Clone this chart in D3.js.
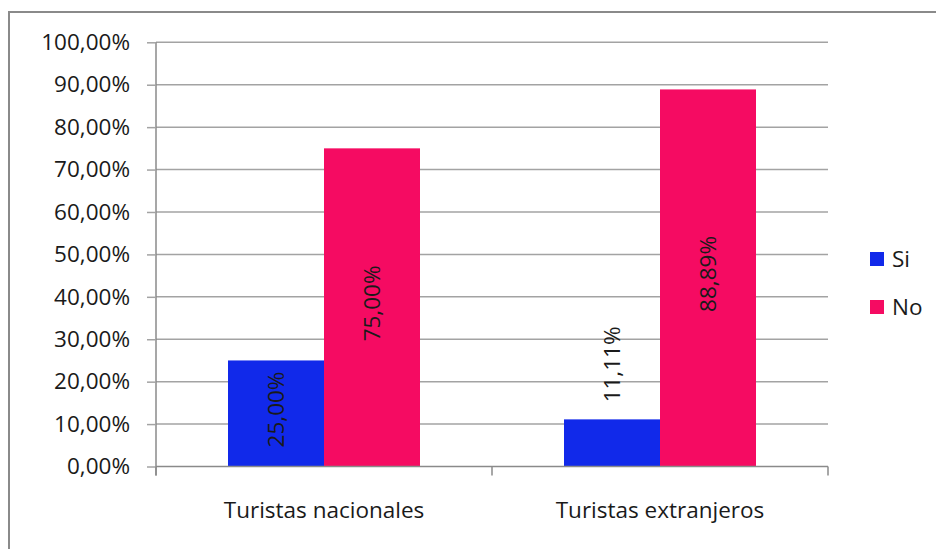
<!DOCTYPE html>
<html>
  <head>
    <meta charset="utf-8">
    <script src="https://d3js.org/d3.v7.min.js"></script>
    <style>
      body { margin: 0; background: #fff; }
      text { font-family: "Open Sans", sans-serif; fill: #1a1a1a; }
    </style>
  </head>
  <body>
    <div id="chart"></div>
    <script>
      // Data
      var categories = ["Turistas nacionales", "Turistas extranjeros"];
      var series = ["Si", "No"];
      var siValues = [0.25, 0.1111];
      var noValues = [0.75, 0.8889];
      var yTicks = [0, 0.1, 0.2, 0.3, 0.4, 0.5, 0.6, 0.7, 0.8, 0.9, 1];
      var colors = ["#1129ea", "#f50b62"];

      var width = 936, height = 549;
      var plotLeft = 156, plotRight = 828, plotTop = 42.3, plotBottom = 466.5;

      var svg = d3.select("#chart").append("svg")
        .attr("width", width)
        .attr("height", height);

      // outer frame
      svg.append("rect")
        .attr("x", 9).attr("y", 12)
        .attr("width", 940).attr("height", 560)
        .attr("fill", "none")
        .attr("stroke", "#8a8a8a")
        .attr("stroke-width", 2);

      var x0 = d3.scaleBand().domain(categories).range([plotLeft, plotRight]);
      var x1 = d3.scaleBand().domain(series).range([0, x0.bandwidth()]).paddingOuter(0.75);
      var y = d3.scaleLinear().domain([0, 1]).range([plotBottom, plotTop]);

      var fmt = function (d) { return (d * 100).toFixed(2).replace(".", ",") + "%"; };

      // gridlines
      svg.append("g").selectAll("line")
        .data(yTicks.filter(function (d) { return d > 0; }))
        .enter().append("line")
        .attr("x1", plotLeft).attr("x2", plotRight)
        .attr("y1", function (d) { return y(d); })
        .attr("y2", function (d) { return y(d); })
        .attr("stroke", "#a3a3a3")
        .attr("stroke-width", 1.5);

      // y axis
      var yAxis = svg.append("g")
        .attr("transform", "translate(" + plotLeft + ",0)")
        .call(d3.axisLeft(y).tickValues(yTicks).tickFormat(fmt).tickSizeInner(9).tickSizeOuter(0).tickPadding(17));
      yAxis.select(".domain").attr("stroke", "#8a8a8a").attr("stroke-width", 1.5)
        .attr("d", "M0," + plotTop + "V" + (plotBottom + 9));
      yAxis.selectAll(".tick line").attr("stroke", "#a3a3a3").attr("stroke-width", 1.5);
      yAxis.selectAll("text").style("font-size", "22.5px").attr("fill", "#1a1a1a");

      // bars
      var rows = categories.map(function (c, i) {
        return [{ cat: c, s: series[0], v: siValues[i] }, { cat: c, s: series[1], v: noValues[i] }];
      });
      var groups = svg.append("g").selectAll("g")
        .data(rows).enter().append("g")
        .attr("transform", function (d) { return "translate(" + x0(d[0].cat) + ",0)"; });

      groups.selectAll("rect")
        .data(function (d) { return d; })
        .enter().append("rect")
        .attr("x", function (d) { return x1(d.s); })
        .attr("y", function (d) { return y(d.v); })
        .attr("width", x1.bandwidth())
        .attr("height", function (d) { return y(0) - y(d.v); })
        .attr("fill", function (d, i) { return colors[i]; });

      // data labels (rotated)
      groups.selectAll("text")
        .data(function (d) { return d; })
        .enter().append("text")
        .style("font-size", "22.5px")
        .attr("dy", "0.36em")
        .attr("transform", function (d) {
          var cx = x1(d.s) + x1.bandwidth() / 2;
          var h = y(0) - y(d.v);
          var cy = h > 100 ? (y(d.v) + y(0)) / 2 - 4 : y(d.v) - 17;
          return "translate(" + cx + "," + cy + ") rotate(-90)";
        })
        .attr("text-anchor", function (d) { return (y(0) - y(d.v)) > 100 ? "middle" : "start"; })
        .text(function (d) { return fmt(d.v); });

      // x axis
      svg.append("line")
        .attr("x1", plotLeft).attr("x2", plotRight)
        .attr("y1", plotBottom).attr("y2", plotBottom)
        .attr("stroke", "#8a8a8a").attr("stroke-width", 1.5);
      var bounds = categories.map(function (c) { return x0(c); }).concat([plotRight]);
      svg.append("g").selectAll("line")
        .data(bounds).enter().append("line")
        .attr("x1", function (d) { return d; }).attr("x2", function (d) { return d; })
        .attr("y1", plotBottom).attr("y2", plotBottom + 9)
        .attr("stroke", "#8a8a8a").attr("stroke-width", 1.5);

      var xAxis = svg.append("g")
        .attr("transform", "translate(0," + plotBottom + ")")
        .call(d3.axisBottom(x0).tickSize(0).tickPadding(0));
      xAxis.select(".domain").remove();
      xAxis.selectAll("text")
        .style("font-size", "22.5px")
        .attr("fill", "#1a1a1a")
        .attr("y", 51).attr("dy", 0);

      // legend
      var legend = svg.append("g").selectAll("g")
        .data(series).enter().append("g")
        .attr("transform", function (d, i) { return "translate(870," + (252 + i * 48) + ")"; });
      legend.append("rect")
        .attr("width", 14).attr("height", 14)
        .attr("fill", function (d, i) { return colors[i]; });
      legend.append("text")
        .attr("x", 22).attr("y", 14.5)
        .style("font-size", "22.5px")
        .text(function (d) { return d; });
    </script>
  </body>
</html>
